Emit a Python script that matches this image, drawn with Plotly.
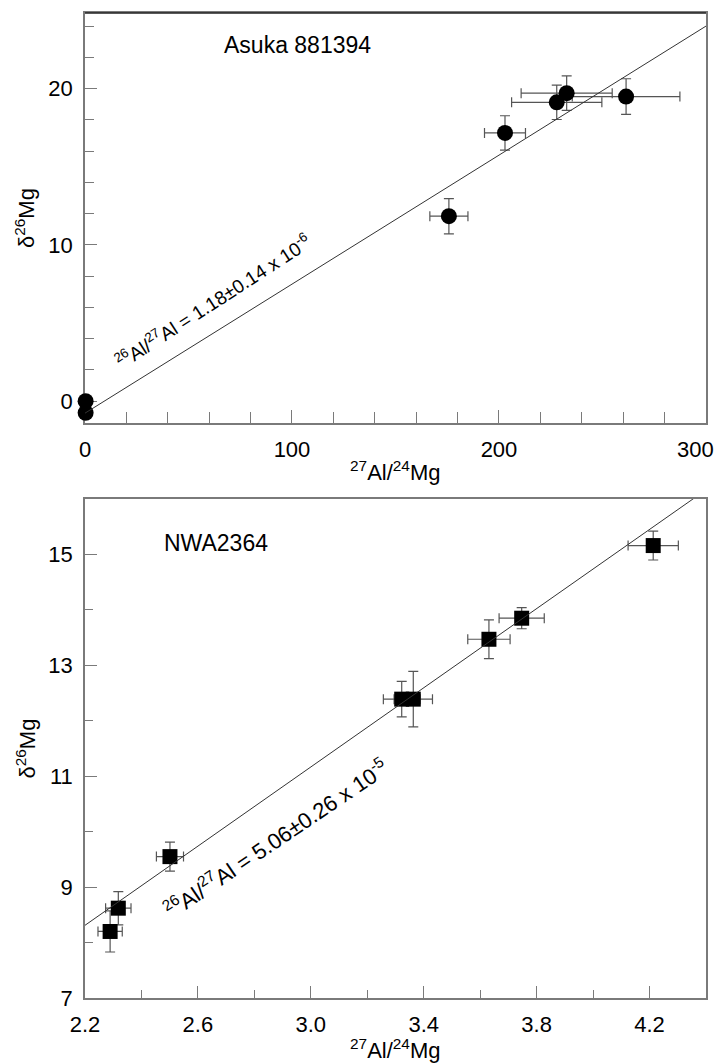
import numpy as np
import plotly.graph_objects as go

# Asuka 881394: 27Al/24Mg, delta26Mg and their errors
asuka_x = [0.3, 0.3, 175.8, 202.9, 227.9, 232.7, 261.4]
asuka_y = [0.0, -0.75, 11.84, 17.17, 19.13, 19.72, 19.50]
asuka_ex = [0, 0, 9.2, 9.9, 21.8, 22.0, 26.0]
asuka_ey = [0, 0, 1.13, 1.10, 1.10, 1.10, 1.14]
asuka_fit = {"slope": 0.0826, "intercept": -0.77}

# NWA2364: 27Al/24Mg, delta26Mg and their errors
nwa_x = [2.289, 2.318, 2.501, 3.322, 3.363, 3.631, 3.747, 4.213]
nwa_y = [8.20, 8.62, 9.55, 12.39, 12.39, 13.47, 13.85, 15.16]
nwa_ex = [0.043, 0.045, 0.048, 0.065, 0.068, 0.075, 0.080, 0.089]
nwa_ey = [0.37, 0.30, 0.26, 0.32, 0.50, 0.35, 0.19, 0.26]
nwa_fit = {"slope": 3.57, "intercept": 0.457}

# tick labels
asuka_xticks = [0, 100, 200, 300]
asuka_yticks = [0, 10, 20]
nwa_xticks = [2.2, 2.6, 3.0, 3.4, 3.8, 4.2]
nwa_yticks = [7, 9, 11, 13, 15]

W, H = 717, 1063
FONT = "Liberation Sans, Arial, sans-serif"
AXCOL = "#7a7a7a"
ERRCOL = "#555555"

# panel boxes in pixels: left, right, top, bottom
L, R = 85, 706
TOP1, BOT1 = 13, 423
TOP2, BOT2 = 499, 998


def px(x):
    return x / W


def py(y):
    return 1 - y / H


fig = go.Figure()

fig.add_trace(go.Scatter(
    x=asuka_x, y=asuka_y, mode="markers",
    marker=dict(symbol="circle", size=16, color="black"),
    error_x=dict(type="data", array=asuka_ex, color=ERRCOL, thickness=1.2, width=5),
    error_y=dict(type="data", array=asuka_ey, color=ERRCOL, thickness=1.2, width=5),
    xaxis="x", yaxis="y", showlegend=False, cliponaxis=False))

lx1 = np.array([0, 300])
fig.add_trace(go.Scatter(
    x=lx1, y=asuka_fit["slope"] * lx1 + asuka_fit["intercept"], mode="lines",
    line=dict(color="#333333", width=1), xaxis="x", yaxis="y", showlegend=False))

fig.add_trace(go.Scatter(
    x=nwa_x, y=nwa_y, mode="markers",
    marker=dict(symbol="square", size=15, color="black"),
    error_x=dict(type="data", array=nwa_ex, color=ERRCOL, thickness=1.2, width=5),
    error_y=dict(type="data", array=nwa_ey, color=ERRCOL, thickness=1.2, width=5),
    xaxis="x2", yaxis="y2", showlegend=False))

lx2 = np.array([2.2, 4.45])
fig.add_trace(go.Scatter(
    x=lx2, y=nwa_fit["slope"] * lx2 + nwa_fit["intercept"], mode="lines",
    line=dict(color="#333333", width=1), xaxis="x2", yaxis="y2", showlegend=False))

tickfont = dict(family=FONT, size=22, color="black")
common = dict(showline=True, linecolor=AXCOL, linewidth=1.5, mirror=True,
              ticks="inside", tickcolor=AXCOL, tickwidth=1.2, showgrid=False,
              zeroline=False, tickfont=tickfont, ticklabelstandoff=6,
              automargin=False, layer="below traces")


def minor(vals, length):
    return dict(tickvals=vals, ticks="inside", ticklen=length, tickcolor=AXCOL,
                tickwidth=1.2)


# the last upper x label sits at the page edge, so it is written separately
asuka_xtext = [str(v) for v in asuka_xticks[:-1]] + [""]

fig.update_layout(
    width=W, height=H, margin=dict(l=0, r=0, t=0, b=0),
    paper_bgcolor="white", plot_bgcolor="white",
    xaxis=dict(domain=[px(L), px(R)], anchor="y", range=[0, 300.01],
               tickvals=asuka_xticks, ticktext=asuka_xtext, ticklen=13,
               minor=minor(list(range(20, 300, 20)), 11), **common),
    yaxis=dict(domain=[py(BOT1), py(TOP1)], anchor="x", range=[-1.4, 24.85],
               tickvals=asuka_yticks, ticktext=[str(v) for v in asuka_yticks], ticklen=12,
               minor=minor(list(range(2, 25, 2)), 9), **common),
    xaxis2=dict(domain=[px(L), px(R)], anchor="y2", range=[2.2, 4.4],
                tickvals=nwa_xticks, ticktext=[f"{v:.1f}" for v in nwa_xticks], ticklen=12,
                minor=minor([2.4, 2.8, 3.2, 3.6, 4.0], 8), **common),
    yaxis2=dict(domain=[py(BOT2), py(TOP2)], anchor="x2", range=[7, 16],
                tickvals=nwa_yticks, ticktext=[str(v) for v in nwa_yticks], ticklen=12,
                minor=minor([8, 10, 12, 14], 8), **common),
)

# darker top border of the upper panel
fig.add_shape(type="line", xref="paper", yref="paper", x0=px(L), x1=px(R),
              y0=py(TOP1), y1=py(TOP1), line=dict(color="#222222", width=1.5))

ann = []
titlefont = dict(family=FONT, size=22, color="black")
for top, bot, xt_y in [(TOP1, BOT1, 471), (TOP2, BOT2, 1049)]:
    ann.append(dict(text="δ<sup>26</sup>Mg", x=px(25), y=py((top + bot) / 2),
                    xref="paper", yref="paper", showarrow=False, textangle=-90,
                    font=titlefont, xanchor="center", yanchor="middle"))
    ann.append(dict(text="<sup>27</sup>Al/<sup>24</sup>Mg", x=px((L + R) / 2), y=py(xt_y),
                    xref="paper", yref="paper", showarrow=False,
                    font=titlefont, xanchor="center", yanchor="middle"))

ann.append(dict(text=str(asuka_xticks[-1]), x=1.0, y=py(BOT1 + 26), xref="paper",
                yref="paper", showarrow=False, xanchor="right", yanchor="middle",
                xshift=-1, font=tickfont))

ann.append(dict(text="Asuka 881394", x=px(222), y=py(45), xref="paper", yref="paper",
                showarrow=False, xanchor="left", yanchor="middle",
                font=dict(family=FONT, size=23, color="black")))
ann.append(dict(text="NWA2364", x=px(162), y=py(543), xref="paper", yref="paper",
                showarrow=False, xanchor="left", yanchor="middle",
                font=dict(family=FONT, size=23, color="black")))

ann.append(dict(text="<sup>26</sup>Al/<sup>27</sup>Al = 1.18±0.14 x 10<sup>-6</sup>",
                x=px(213), y=py(301), xref="paper", yref="paper", showarrow=False,
                textangle=-33, xanchor="center", yanchor="middle",
                font=dict(family=FONT, size=19, color="black")))
ann.append(dict(text="<sup>26</sup>Al/<sup>27</sup>Al = 5.06±0.26 x 10<sup>-5</sup>",
                x=px(276), y=py(838), xref="paper", yref="paper", showarrow=False,
                textangle=-34, xanchor="center", yanchor="middle",
                font=dict(family=FONT, size=22, color="black")))

fig.update_layout(annotations=ann)
fig.write_html("out.html")
